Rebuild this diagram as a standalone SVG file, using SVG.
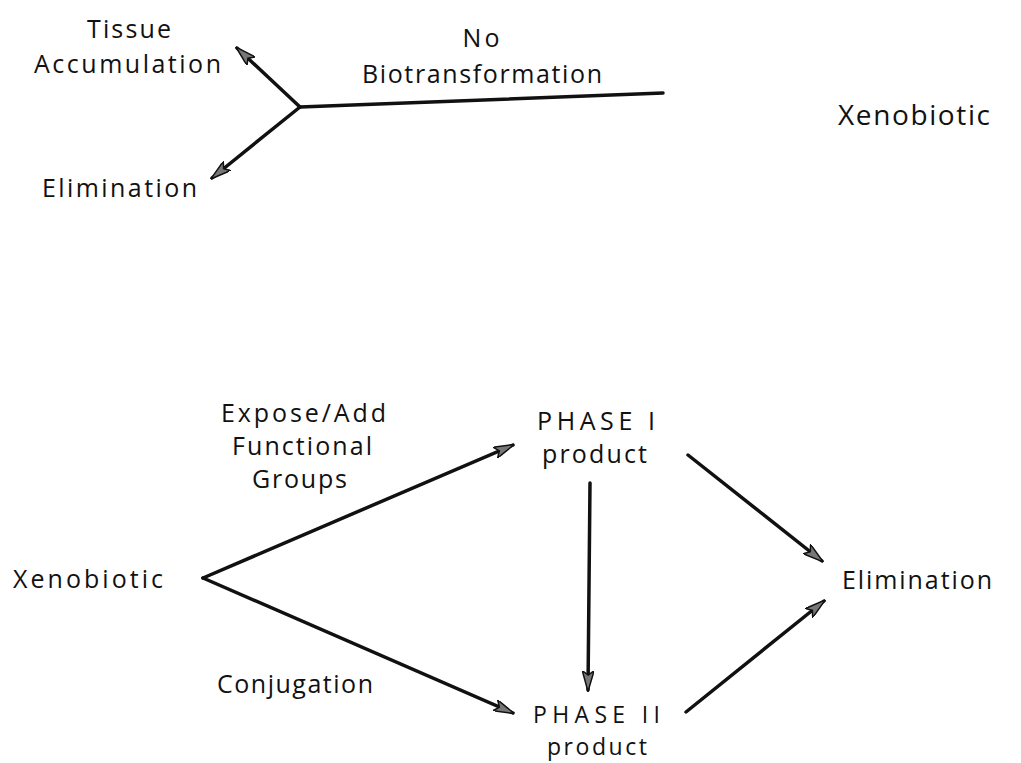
<svg xmlns="http://www.w3.org/2000/svg" width="1021" height="763" viewBox="0 0 1021 763">
<style>
text{font-family:"Open Sans","Liberation Sans",sans-serif;fill:#111;font-size:25px;text-anchor:middle}
.big{font-size:28px}
.sm{font-size:23px}
.c{stroke:#111;stroke-width:3.5;fill:none;stroke-linecap:round}
</style>
<defs>
<marker id="ah" viewBox="0 0 14 8" refX="13" refY="4" markerWidth="6" markerHeight="3.4" orient="auto" markerUnits="strokeWidth">
<path d="M0,0 L14,4 L0,8 L3,4 Z" fill="#777" stroke="#111" stroke-width="1"/>
</marker>
</defs>
<rect width="1021" height="763" fill="#fff"/>
<g id="connectors">
<line class="c" x1="663" y1="93" x2="300" y2="107"/>
<line class="c" x1="300" y1="107" x2="237" y2="48" marker-end="url(#ah)"/>
<line class="c" x1="300" y1="107" x2="212" y2="178" marker-end="url(#ah)"/>
<line class="c" x1="203" y1="578" x2="513" y2="445" marker-end="url(#ah)"/>
<line class="c" x1="203" y1="578" x2="513" y2="713" marker-end="url(#ah)"/>
<line class="c" x1="590" y1="483" x2="588" y2="690" marker-end="url(#ah)"/>
<line class="c" x1="688" y1="455" x2="822" y2="561" marker-end="url(#ah)"/>
<line class="c" x1="686" y1="712" x2="824" y2="601" marker-end="url(#ah)"/>
</g>
<g id="tissue"><text x="129" y="38" textLength="84" lengthAdjust="spacing">Tissue</text><text x="127.5" y="73" textLength="187" lengthAdjust="spacing">Accumulation</text></g>
<g id="nobio"><text x="481" y="47" textLength="37" lengthAdjust="spacing">No</text><text x="482" y="83" textLength="240" lengthAdjust="spacing">Biotransformation</text></g>
<g id="elim1"><text x="119.5" y="197" textLength="155" lengthAdjust="spacing">Elimination</text></g>
<g id="xeno1"><text class="big" x="914" y="125" textLength="152" lengthAdjust="spacing">Xenobiotic</text></g>
<g id="expose"><text x="303.5" y="422" textLength="165" lengthAdjust="spacing">Expose/Add</text><text x="302" y="455" textLength="140" lengthAdjust="spacing">Functional</text><text x="299.5" y="488" textLength="95" lengthAdjust="spacing">Groups</text></g>
<g id="phase1"><text x="596" y="430" textLength="118" lengthAdjust="spacing">PHASE I</text><text x="594.5" y="463" textLength="105" lengthAdjust="spacing">product</text></g>
<g id="xeno2"><text x="88" y="588" textLength="150" lengthAdjust="spacing">Xenobiotic</text></g>
<g id="elim2"><text x="917" y="589" textLength="150" lengthAdjust="spacing">Elimination</text></g>
<g id="conj"><text x="295" y="693" textLength="156" lengthAdjust="spacing">Conjugation</text></g>
<g id="phase2"><text class="sm" x="596.5" y="723" textLength="127" lengthAdjust="spacing">PHASE II</text><text class="sm" x="597" y="755" textLength="100" lengthAdjust="spacing">product</text></g>
</svg>
